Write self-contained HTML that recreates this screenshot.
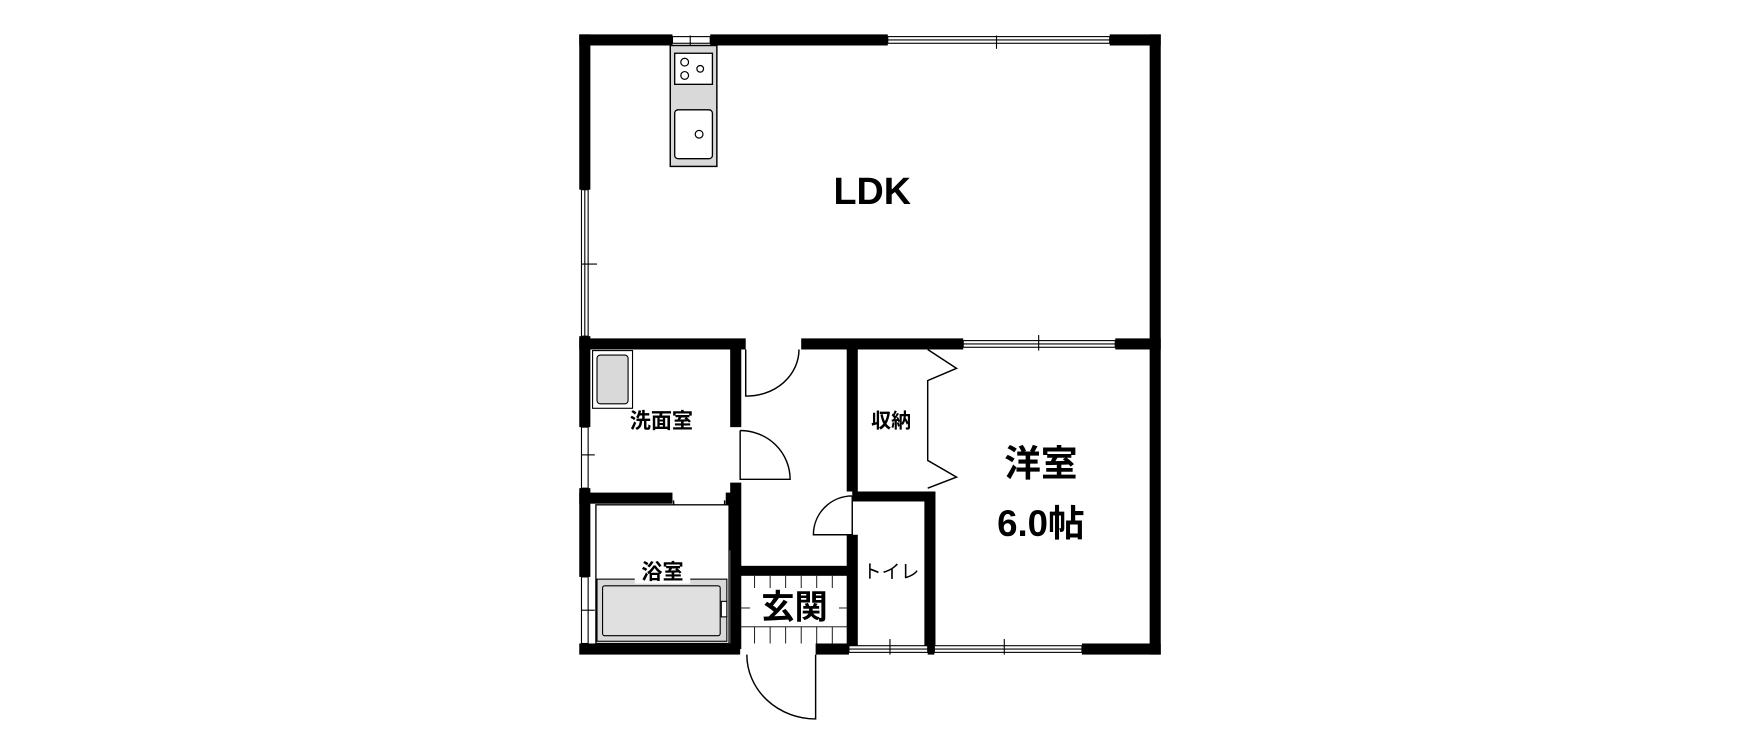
<!DOCTYPE html>
<html><head><meta charset="utf-8"><style>
html,body{margin:0;padding:0;background:#fff;}
svg{display:block}
text{font-family:"Liberation Sans","Noto Sans CJK JP",sans-serif;font-weight:bold;fill:#000;text-anchor:middle;dominant-baseline:central}
</style></head><body>
<svg width="1740" height="750" viewBox="0 0 1568 676" preserveAspectRatio="none" xmlns="http://www.w3.org/2000/svg">
<rect width="1568" height="676" fill="#fff"/>
<g fill="#000">
<rect x="522" y="31" width="84" height="10"/>
<rect x="640" y="31" width="160" height="10"/>
<rect x="1000" y="31" width="46" height="10"/>
<rect x="1036" y="31" width="10" height="559"/>
<rect x="522" y="31" width="10" height="140"/>
<rect x="522" y="303" width="10" height="82"/>
<rect x="522" y="440" width="10" height="80"/>
<rect x="522" y="305" width="150" height="10"/>
<rect x="722" y="305" width="146" height="10"/>
<rect x="1005" y="305" width="41" height="10"/>
<rect x="522" y="580" width="145" height="10"/>
<rect x="735" y="580" width="30" height="10"/>
<rect x="975" y="580" width="71" height="10"/>
<rect x="836" y="578" width="6" height="12"/>
<rect x="658" y="310" width="10" height="75"/>
<rect x="658" y="435" width="10" height="150"/>
<rect x="522" y="444" width="84" height="10"/>
<rect x="654" y="444" width="6" height="52"/>
<rect x="667" y="510" width="100" height="9"/>
<rect x="763" y="310" width="10" height="133"/>
<rect x="763" y="482" width="10" height="104"/>
<rect x="768" y="443" width="72" height="9"/>
<rect x="833" y="443" width="10" height="142"/>
</g>
<g fill="#fff" stroke="#000" stroke-width="1">
<rect x="800" y="33" width="200" height="6"/><line x1="800" y1="36" x2="1000" y2="36"/>
<line x1="898" y1="32" x2="898" y2="44"/>
<rect x="606" y="33" width="34" height="6"/><line x1="622" y1="32" x2="622" y2="46"/>
<rect x="524" y="171" width="6" height="132"/><line x1="527" y1="171" x2="527" y2="303"/>
<line x1="524" y1="238" x2="538" y2="238"/>
<rect x="524" y="385" width="6" height="55"/><line x1="524" y1="410" x2="536" y2="410"/>
<rect x="524" y="520" width="6" height="60"/><line x1="524" y1="550" x2="536" y2="550"/>
<rect x="868" y="307" width="137" height="6"/><line x1="868" y1="310" x2="1005" y2="310"/>
<line x1="936" y1="302" x2="936" y2="316"/>
<rect x="765" y="582" width="71" height="6"/><line x1="765" y1="585" x2="836" y2="585"/>
<line x1="802" y1="576" x2="802" y2="590"/>
<rect x="842" y="582" width="133" height="6"/><line x1="842" y1="585" x2="975" y2="585"/>
<line x1="905" y1="576" x2="905" y2="590"/>
</g>
<g fill="none" stroke="#000" stroke-width="1.3">
<path d="M672 315 V357 A47 42 0 0 0 720 315"/>
<path d="M667 388 V432 H712 A45 44 0 0 0 667 388"/>
<path d="M607 451 A46 46 0 0 0 653 498 V451"/>
<path d="M768 447 V482 H733 A35 35 0 0 1 768 447"/>
<path d="M673 590 A62 58 0 0 0 735 648 V590"/>
<polyline points="836,315 862,332 836,343 836,415 862,430 836,440"/>
<g stroke-width="0.8">
<line x1="667" y1="565" x2="765" y2="565"/>
<line x1="680" y1="565" x2="680" y2="580"/><line x1="694" y1="565" x2="694" y2="580"/><line x1="708" y1="565" x2="708" y2="580"/><line x1="722" y1="565" x2="722" y2="580"/><line x1="736" y1="565" x2="736" y2="580"/><line x1="750" y1="565" x2="750" y2="580"/>
<line x1="680" y1="519" x2="680" y2="530"/><line x1="694" y1="519" x2="694" y2="530"/><line x1="708" y1="519" x2="708" y2="530"/><line x1="722" y1="519" x2="722" y2="530"/><line x1="736" y1="519" x2="736" y2="530"/><line x1="750" y1="519" x2="750" y2="530"/>
<line x1="667" y1="548" x2="676" y2="548"/><line x1="756" y1="548" x2="765" y2="548"/>
</g>
</g>
<rect x="604" y="41" width="42" height="109" fill="#d9d9d9" stroke="#000" stroke-width="1.3"/>
<rect x="608" y="48" width="34" height="28" fill="#fff" stroke="#000" stroke-width="1.2"/>
<g fill="none" stroke="#000" stroke-width="1.1">
<circle cx="617" cy="56" r="3.5"/><circle cx="617" cy="68" r="3.5"/><circle cx="631" cy="62" r="3"/>
</g>
<rect x="608" y="99" width="34" height="44" rx="3" fill="#fff" stroke="#000" stroke-width="1.2"/>
<circle cx="630" cy="121" r="3.5" fill="none" stroke="#000" stroke-width="1.1"/>
<rect x="534" y="316" width="36" height="52" fill="#fff" stroke="#000"/>
<rect x="538" y="320" width="28" height="44" rx="3" fill="#d9d9d9" stroke="#000"/>
<rect x="537" y="455" width="120" height="125" fill="#fff" stroke="#000" stroke-width="1.2"/>
<rect x="538" y="522" width="117" height="56" fill="#d9d9d9" stroke="#000"/>
<rect x="543" y="528" width="106" height="45" rx="2" fill="#e0e0e0" stroke="#000"/>
<rect x="650" y="542" width="5" height="14" fill="#fff" stroke="#000"/>
<text x="786" y="172" font-size="34">LDK</text>
<text x="596" y="380" font-size="19">洗面室</text>
<rect x="572" y="506" width="50" height="20" fill="#fff"/>
<text x="597" y="516" font-size="19">浴室</text>
<rect x="676" y="530" width="80" height="34" fill="#fff"/>
<text x="716" y="548" font-size="30">玄関</text>
<text x="803" y="380" font-size="18">収納</text>
<text x="803" y="515" font-size="17" style="font-weight:normal">トイレ</text>
<text x="938" y="418" font-size="33">洋室</text>
<text x="938" y="472" font-size="33">6.0帖</text>
</svg>
</body></html>
